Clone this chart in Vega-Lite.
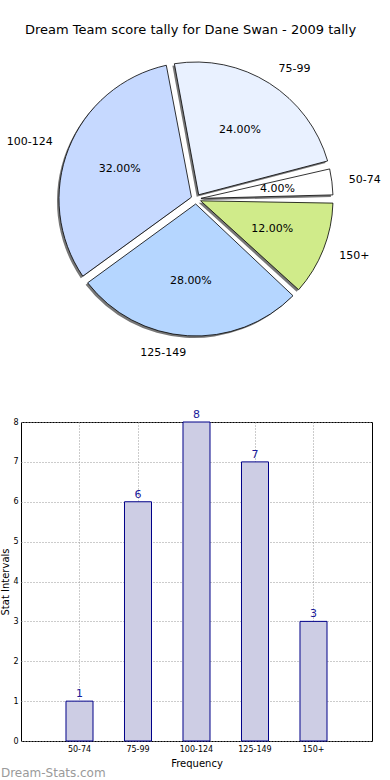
{
  "$schema": "https://vega.github.io/schema/vega-lite/v6.json",
  "padding": {"top": 24, "left": 0, "right": 0, "bottom": 0},
  "title": {"text": "Dream Team score tally for Dane Swan - 2009 tally", "fontSize": 13, "font": "DejaVu Sans", "fontWeight": "normal", "color": "#000", "anchor": "middle", "offset": 4},
  "config": {"font": "DejaVu Sans", "view": {"stroke": null}},
  "datasets": {
    "tally": [
      {"range": "50-74", "count": 1, "pct": 0.04, "idx": 1},
      {"range": "75-99", "count": 6, "pct": 0.24, "idx": 2},
      {"range": "100-124", "count": 8, "pct": 0.32, "idx": 3},
      {"range": "125-149", "count": 7, "pct": 0.28, "idx": 4},
      {"range": "150+", "count": 3, "pct": 0.12, "idx": 5}
    ]
  },
  "vconcat": [
    {
      "width": 350,
      "height": 316,
      "data": {"name": "tally"},
      "encoding": {
        "theta": {"field": "count", "type": "quantitative", "stack": true, "scale": {"range": [1.5707963, -4.712389]}},
        "order": {"field": "idx", "type": "quantitative"}
      },
      "layer": [
        {
          "mark": {"type": "arc", "radius": 137, "innerRadius": 5, "padAngle": 0.06, "fill": "#777", "xOffset": -2, "yOffset": 2}
        },
        {
          "mark": {"type": "arc", "radius": 137, "innerRadius": 5, "padAngle": 0.06, "stroke": "#000", "strokeWidth": 0.8},
          "encoding": {
            "color": {"field": "range", "type": "nominal", "legend": null,
              "scale": {"domain": ["50-74", "75-99", "100-124", "125-149", "150+"], "range": ["#ffffff", "#e9f1ff", "#c6d9ff", "#b5d6ff", "#d0eb8a"]}}
          }
        },
        {
          "mark": {"type": "text", "radius": 82, "fontSize": 11, "color": "#000"},
          "encoding": {"text": {"field": "pct", "type": "quantitative", "format": ".2%"}}
        },
        {
          "mark": {"type": "text", "radius": 154, "fontSize": 11, "color": "#000",
            "align": {"expr": "datum.range == '100-124' || datum.range == '125-149' ? 'right' : 'left'"}},
          "encoding": {"text": {"field": "range", "type": "nominal"}}
        }
      ]
    },
    {
      "width": 351,
      "height": 319,
      "data": {"name": "tally"},
      "title": {"text": "Dream-Stats.com", "orient": "bottom", "anchor": "start", "fontSize": 12, "fontWeight": "normal", "color": "#9a9a9a", "offset": 0},
      "view": {"stroke": "#000", "strokeWidth": 1},
      "encoding": {
        "x": {"field": "range", "type": "nominal", "sort": ["50-74", "75-99", "100-124", "125-149", "150+"],
          "scale": {"paddingInner": 0.538, "paddingOuter": 0.769},
          "axis": {"title": "Frequency", "titleFontSize": 10, "titleFontWeight": "normal", "titlePadding": 5, "labelAngle": 0, "labelFontSize": 8, "labelColor": "#000", "labelPadding": 4, "ticks": false, "domain": false, "grid": true, "gridDash": [1, 2], "gridColor": "#999", "bandPosition": 0.5}},
        "y": {"field": "count", "type": "quantitative", "scale": {"domain": [0, 8], "nice": false},
          "axis": {"title": "Stat Intervals", "titleFontSize": 10, "titleFontWeight": "normal", "titlePadding": 2, "values": [0, 1, 2, 3, 4, 5, 6, 7, 8], "labelFontSize": 8, "labelColor": "#000", "labelPadding": 3, "ticks": false, "domain": false, "grid": true, "gridDash": [1, 2], "gridColor": "#999"}}
      },
      "layer": [
        {"mark": {"type": "bar", "fill": "#cdcde4", "stroke": "#000088", "strokeWidth": 1}},
        {"mark": {"type": "text", "dy": -7, "fontSize": 11, "color": "#1a1a9a"}, "encoding": {"text": {"field": "count", "type": "quantitative"}}}
      ]
    }
  ],
  "spacing": 50
}
